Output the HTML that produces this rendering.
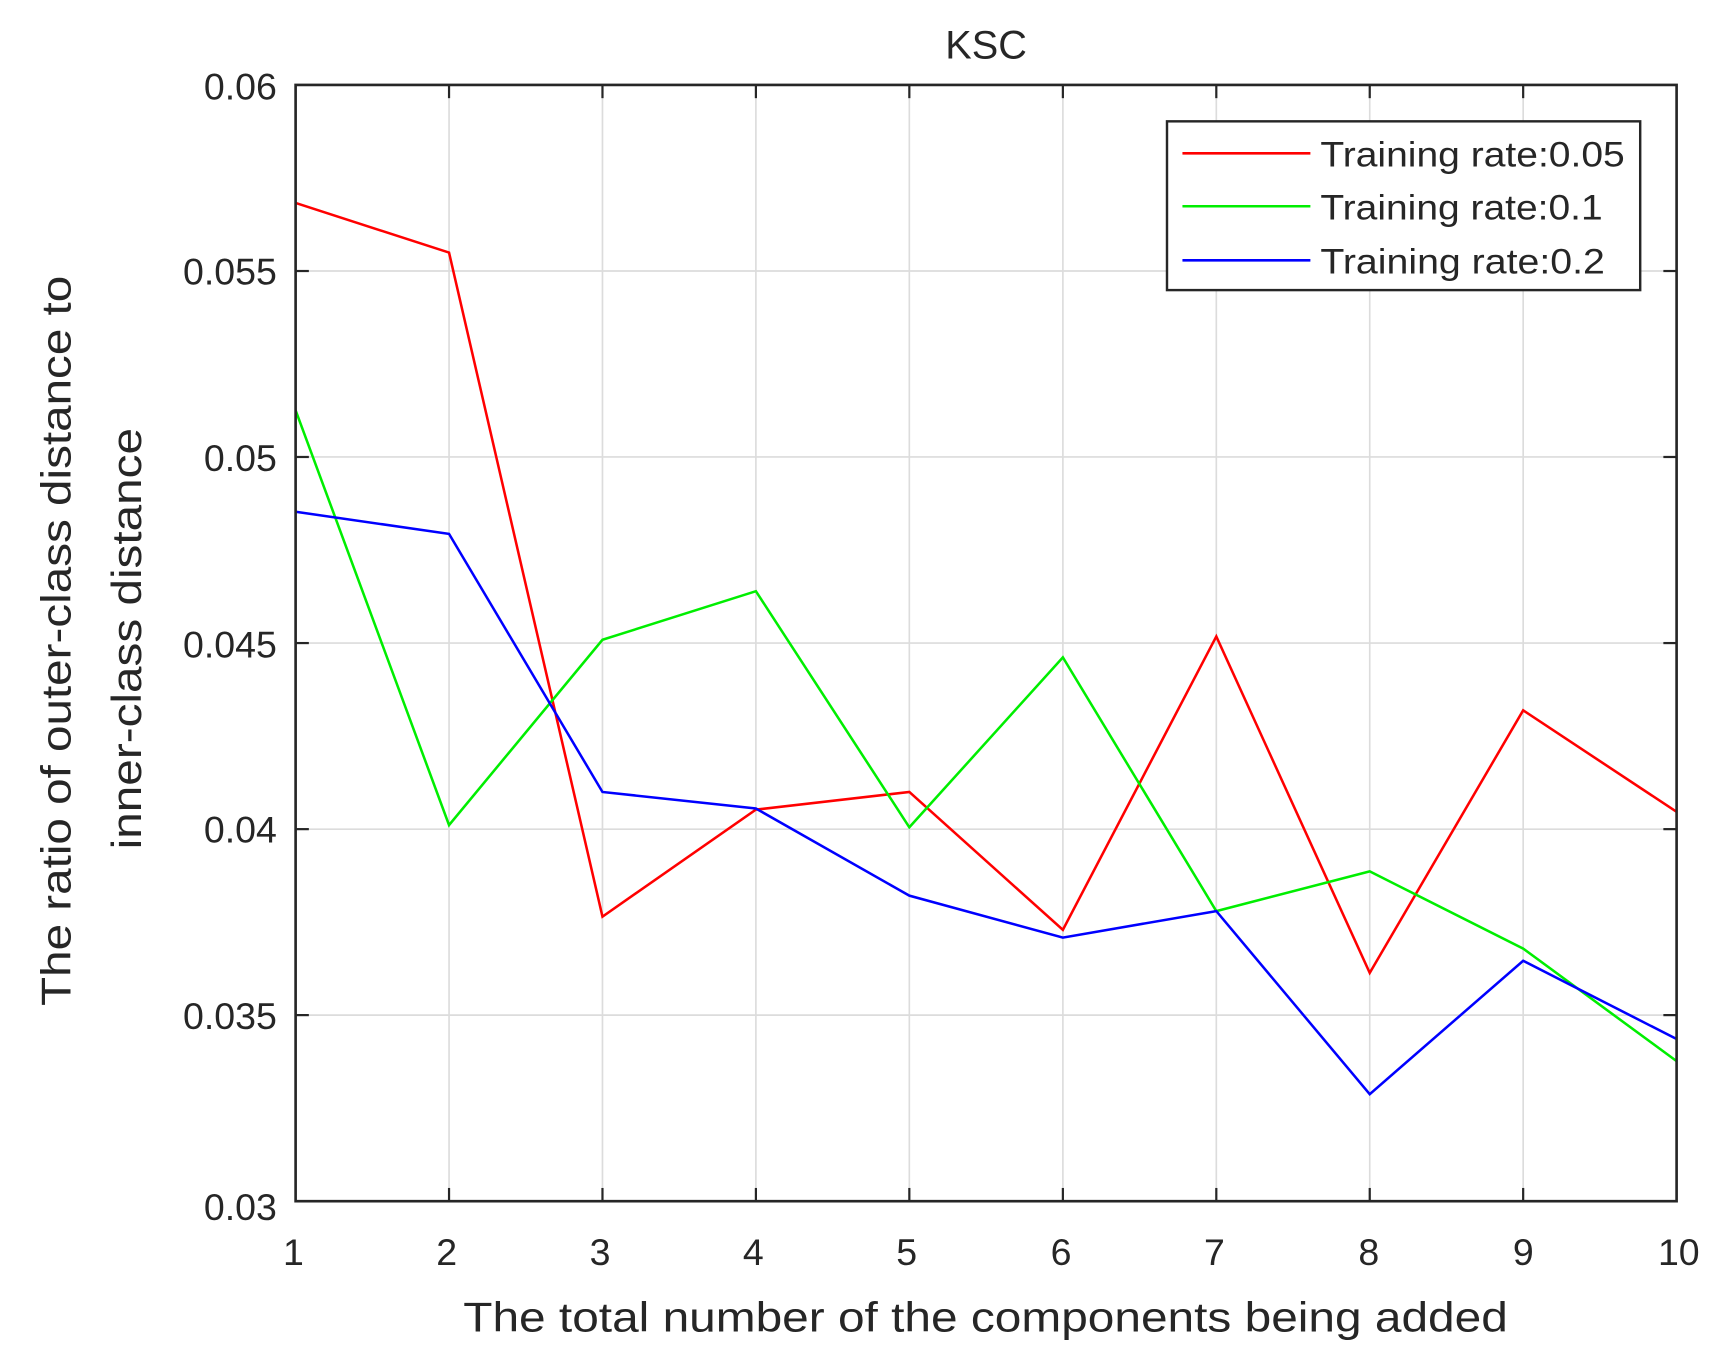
<!DOCTYPE html>
<html><head><meta charset="utf-8"><style>html,body{margin:0;padding:0;background:#fff}svg{display:block}</style></head>
<body>
<svg width="1728" height="1364" viewBox="0 0 1566.6 1236.6" xmlns="http://www.w3.org/2000/svg" font-family="Liberation Sans, Arial, sans-serif">
<rect x="0" y="0" width="1566.6" height="1236.6" fill="#fff"/>
<g stroke="#dcdcdc" stroke-width="1.5">
<line x1="407.1" y1="77" x2="407.1" y2="1089"/><line x1="546.2" y1="77" x2="546.2" y2="1089"/><line x1="685.3" y1="77" x2="685.3" y2="1089"/><line x1="824.4" y1="77" x2="824.4" y2="1089"/><line x1="963.6" y1="77" x2="963.6" y2="1089"/><line x1="1102.7" y1="77" x2="1102.7" y2="1089"/><line x1="1241.8" y1="77" x2="1241.8" y2="1089"/><line x1="1380.9" y1="77" x2="1380.9" y2="1089"/>
<line x1="268" y1="245.7" x2="1520" y2="245.7"/><line x1="268" y1="414.3" x2="1520" y2="414.3"/><line x1="268" y1="583" x2="1520" y2="583"/><line x1="268" y1="751.7" x2="1520" y2="751.7"/><line x1="268" y1="920.3" x2="1520" y2="920.3"/>
</g>
<g stroke="#262626" stroke-width="2">
<line x1="407.1" y1="1089" x2="407.1" y2="1077"/><line x1="546.2" y1="1089" x2="546.2" y2="1077"/><line x1="685.3" y1="1089" x2="685.3" y2="1077"/><line x1="824.4" y1="1089" x2="824.4" y2="1077"/><line x1="963.6" y1="1089" x2="963.6" y2="1077"/><line x1="1102.7" y1="1089" x2="1102.7" y2="1077"/><line x1="1241.8" y1="1089" x2="1241.8" y2="1077"/><line x1="1380.9" y1="1089" x2="1380.9" y2="1077"/>
<line x1="407.1" y1="77" x2="407.1" y2="89"/><line x1="546.2" y1="77" x2="546.2" y2="89"/><line x1="685.3" y1="77" x2="685.3" y2="89"/><line x1="824.4" y1="77" x2="824.4" y2="89"/><line x1="963.6" y1="77" x2="963.6" y2="89"/><line x1="1102.7" y1="77" x2="1102.7" y2="89"/><line x1="1241.8" y1="77" x2="1241.8" y2="89"/><line x1="1380.9" y1="77" x2="1380.9" y2="89"/>
<line x1="268" y1="245.7" x2="280" y2="245.7"/><line x1="268" y1="414.3" x2="280" y2="414.3"/><line x1="268" y1="583" x2="280" y2="583"/><line x1="268" y1="751.7" x2="280" y2="751.7"/><line x1="268" y1="920.3" x2="280" y2="920.3"/>
<line x1="1520" y1="245.7" x2="1508" y2="245.7"/><line x1="1520" y1="414.3" x2="1508" y2="414.3"/><line x1="1520" y1="583" x2="1508" y2="583"/><line x1="1520" y1="751.7" x2="1508" y2="751.7"/><line x1="1520" y1="920.3" x2="1508" y2="920.3"/>
</g>
<g fill="none" stroke-width="2.3">
<polyline stroke="#ff0000" points="268,184 407.1,229 546.2,831 685.3,734 824.4,718 963.6,843 1102.7,577 1241.8,882 1380.9,644 1520,736"/>
<polyline stroke="#00ee00" points="268,372 407.1,748 546.2,580 685.3,536 824.4,750 963.6,596 1102.7,826 1241.8,790 1380.9,860 1520,962"/>
<polyline stroke="#0000ff" points="268,464 407.1,484 546.2,718 685.3,733 824.4,812 963.6,850 1102.7,826 1241.8,992 1380.9,871 1520,942"/>
</g>
<rect x="268" y="77" width="1252" height="1012" fill="none" stroke="#262626" stroke-width="2.4"/>
<g fill="#262626" font-size="34">
<text x="894" y="53" text-anchor="middle" font-size="36">KSC</text>
<g text-anchor="end">
<text x="251" y="90">0.06</text><text x="251" y="258">0.055</text><text x="251" y="427">0.05</text><text x="251" y="596">0.045</text><text x="251" y="764">0.04</text><text x="251" y="933">0.035</text><text x="251" y="1106">0.03</text>
</g>
<g text-anchor="middle">
<text x="266" y="1147">1</text><text x="405" y="1147">2</text><text x="544" y="1147">3</text><text x="683" y="1147">4</text><text x="822" y="1147">5</text><text x="962" y="1147">6</text><text x="1101" y="1147">7</text><text x="1241" y="1147">8</text><text x="1381" y="1147">9</text><text x="1522" y="1147">10</text>
</g>
<text x="420" y="1207" font-size="38" textLength="947" lengthAdjust="spacingAndGlyphs">The total number of the components being added</text>
<text transform="translate(64,912) rotate(-90)" font-size="38" textLength="662" lengthAdjust="spacingAndGlyphs">The ratio of outer-class distance to</text>
<text transform="translate(128,770) rotate(-90)" font-size="38" textLength="382" lengthAdjust="spacingAndGlyphs">inner-class distance</text>
</g>
<rect x="1058" y="110" width="429" height="153" fill="#fff" stroke="#262626" stroke-width="2.2"/>
<line x1="1072" y1="139" x2="1188" y2="139" stroke="#ff0000" stroke-width="2.3"/>
<line x1="1072" y1="187" x2="1188" y2="187" stroke="#00ee00" stroke-width="2.3"/>
<line x1="1072" y1="236" x2="1188" y2="236" stroke="#0000ff" stroke-width="2.3"/>
<g fill="#262626" font-size="32">
<text x="1197" y="151" textLength="276" lengthAdjust="spacingAndGlyphs">Training rate:0.05</text>
<text x="1197" y="199" textLength="256" lengthAdjust="spacingAndGlyphs">Training rate:0.1</text>
<text x="1197" y="248" textLength="258" lengthAdjust="spacingAndGlyphs">Training rate:0.2</text>
</g>
</svg>
</body></html>
